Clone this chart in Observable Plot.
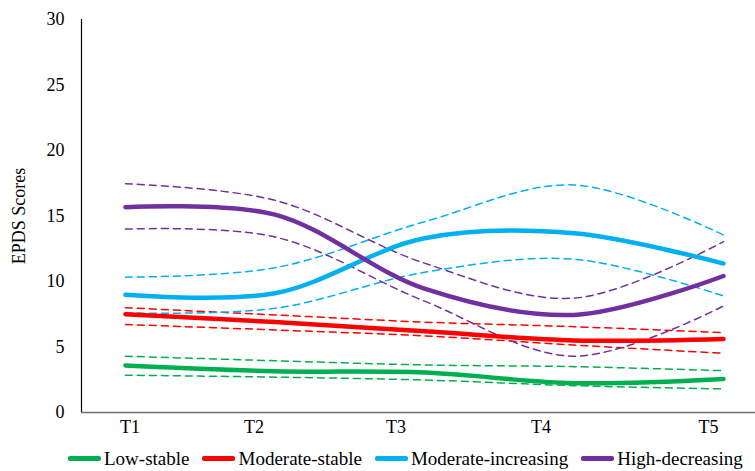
<!DOCTYPE html>
<html>
<head>
<meta charset="utf-8">
<script src="https://cdn.jsdelivr.net/npm/d3@7"></script>
<script src="https://cdn.jsdelivr.net/npm/@observablehq/plot@0.6"></script>
<style>
  * { font-family: 'Liberation Serif', 'Times New Roman', serif !important; }
  svg text, svg tspan { font-family: 'Liberation Serif', 'Times New Roman', serif !important; }
</style>
</head>
<body style="margin:0;padding:0;background:#fff;">
<div id="chart" style="width:755px;"></div>
<script>
// ---- data ----
const timeLabels = ["T1", "T2", "T3", "T4", "T5"];
const timeIndex = [1, 2, 3, 4, 5];
const groups = ["Low-stable", "Moderate-stable", "Moderate-increasing", "High-decreasing"];
const colors = ["#00B050", "#FF0000", "#00B0F0", "#7030A0"];

const lowMean  = [3.59, 3.15, 3.05, 2.24, 2.56];
const lowUpper = [4.30, 3.95, 3.63, 3.50, 3.19];
const lowLower = [2.85, 2.70, 2.48, 2.05, 1.80];

const modMean  = [7.50, 6.90, 6.20, 5.50, 5.61];
const modUpper = [8.00, 7.45, 6.90, 6.55, 6.10];
const modLower = [6.72, 6.30, 5.85, 5.15, 4.52];

const incMean  = [8.98, 9.10, 13.30, 13.68, 11.37];
const incUpper = [10.33, 11.05, 14.56, 17.37, 13.55];
const incLower = [7.60, 7.95, 10.70, 11.70, 8.90];

const highMean  = [15.67, 15.10, 9.45, 7.45, 10.42];
const highUpper = [17.46, 16.20, 11.40, 8.73, 13.04];
const highLower = [14.00, 13.40, 8.50, 4.30, 8.13];

const yTicks = [0, 5, 10, 15, 20, 25, 30];

// ---- layout (not data) ----
const FONT = "'Liberation Serif', 'Times New Roman', serif";
const labelPos = [1.03, 1.86, 2.81, 3.78, 4.90];
const xDomain = [0.706, 5.214];

const series = [
  {group: groups[0], mean: lowMean, upper: lowUpper, lower: lowLower},
  {group: groups[1], mean: modMean, upper: modUpper, lower: modLower},
  {group: groups[2], mean: incMean, upper: incUpper, lower: incLower},
  {group: groups[3], mean: highMean, upper: highUpper, lower: highLower}
];

const meanRows = [], ciRows = [];
for (const s of series) {
  timeIndex.forEach((t, i) => {
    meanRows.push({t, v: s.mean[i], group: s.group});
    ciRows.push({t, v: s.upper[i], group: s.group, key: s.group + "-u"});
    ciRows.push({t, v: s.lower[i], group: s.group, key: s.group + "-l"});
  });
}

const plot = Plot.plot({
  width: 755,
  height: 442,
  marginLeft: 81,
  marginRight: 0,
  marginTop: 19,
  marginBottom: 30,
  style: {fontSize: "18px", color: "#000", background: "#fff"},
  x: {domain: xDomain},
  y: {domain: [0, 30]},
  color: {domain: groups, range: colors},
  marks: [
    Plot.axisY({ticks: yTicks, tickSize: 0, tickPadding: 17, fontSize: 18,
      label: "EPDS Scores", labelAnchor: "center", labelArrow: "none", labelOffset: 69}),
    Plot.axisX({ticks: labelPos, tickFormat: (d, i) => timeLabels[i], tickSize: 0, tickPadding: 8,
      fontSize: 18, label: null}),
    Plot.line(ciRows, {x: "t", y: "v", z: "key", stroke: "group", strokeWidth: 1.5,
      strokeDasharray: "7,5", curve: "catmull-rom"}),
    Plot.line(meanRows, {x: "t", y: "v", z: "group", stroke: "group", strokeWidth: 4.5,
      curve: "catmull-rom", strokeLinecap: "round"}),
    Plot.ruleX([xDomain[0]], {stroke: "#000", strokeWidth: 1.2}),
    Plot.ruleY([0], {stroke: "#6e6e6e", strokeWidth: 1.5})
  ]
});
plot.setAttribute("font-family", FONT);
plot.querySelectorAll("g, text").forEach(t => {
  if (t.hasAttribute("font-family")) t.setAttribute("font-family", FONT);
  t.style.setProperty("font-family", FONT, "important");
});
document.getElementById("chart").appendChild(plot);

const legend = document.createElement("div");
legend.style.cssText = "display:flex;align-items:center;height:25px;padding-top:4px;padding-left:68px;" +
  "font-size:19px;color:#000;white-space:nowrap;";
groups.forEach((g, i) => {
  const it = document.createElement("div");
  it.style.cssText = "display:flex;align-items:center;margin-right:13px;flex-shrink:0;";
  const sw = document.createElement("div");
  sw.style.cssText = "width:33px;height:4.5px;border-radius:2px;margin-right:3px;flex-shrink:0;background:" + colors[i];
  const tx = document.createElement("span");
  tx.style.setProperty("font-family", FONT, "important");
  tx.textContent = g;
  it.appendChild(sw); it.appendChild(tx);
  legend.appendChild(it);
});
document.getElementById("chart").appendChild(legend);
</script>
</body>
</html>
